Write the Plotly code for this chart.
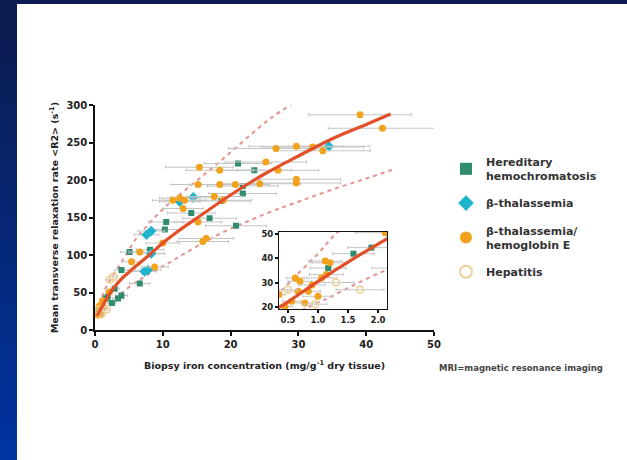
import plotly.graph_objects as go

# ---------------- data ----------------
hh_x = [1.17, 1.59, 1.89, 2.5, 3.4, 3.9, 2.9, 3.9, 5.1, 6.6, 8.1, 10.3, 10.5, 14.2, 16.9, 18.6, 20.8, 21.1, 21.8, 21.8, 23.5]
hh_y = [36, 42, 44.5, 36, 42, 46, 55, 80, 104, 62, 107, 134, 144, 156, 149, 172, 139, 222, 192, 182, 213]
hh_err = [0.3, 0.35, 0.4, 0.6, 0.8, 0.9, 0.7, 1.0, 1.3, 1.5, 2.0, 2.5, 2.6, 3.5, 4.0, 4.2, 4.5, 5.0, 5.2, 5.0, 5.5]

bt_x = [7.6, 8.3, 8.3, 7.8, 7.3, 12.5, 14.5, 34.5]
bt_y = [127, 132, 102, 80, 78, 171, 177, 245]
bt_err = [1.8, 2.0, 2.0, 1.9, 1.8, 3.0, 3.4, 6.0]

be_x = [0.35, 0.45, 0.56, 0.62, 0.67, 0.7, 0.78, 0.84, 0.9, 1.0, 1.06, 1.12, 1.14, 1.2, 2.12,
        5.4, 6.6, 8.8, 10, 11.5, 12.5, 13.2, 13, 15.2, 15.2, 15.9, 16.4, 15.4, 17.6, 18.4, 18.4,
        18.9, 20.7, 24.3, 25.2, 27, 29.7, 29.7, 26.7, 29.7, 32.1, 33.6, 39.1, 42.4]
be_y = [25, 20, 22.2, 31.9, 26.4, 30.5, 21.5, 26.4, 29, 24.3, 31.9, 38.9, 33.3, 38.2, 50.7,
        91, 104, 84, 116, 173, 176, 173, 162, 144, 194, 118, 122, 217, 178, 213, 194,
        173, 194, 195, 224, 213, 201, 196, 242, 245, 244, 239, 287, 269]
be_err = [0.1, 0.12, 0.15, 0.15, 0.18, 0.2, 0.2, 0.2, 0.22, 0.25, 0.25, 0.28, 0.28, 0.3, 0.5,
          1.4, 1.6, 2.0, 2.5, 3.0, 3.0, 3.2, 3.0, 3.5, 4.0, 3.8, 4.0, 5.0, 4.0, 5.0, 4.5,
          4.2, 5.0, 6.0, 6.0, 6.0, 6.5, 6.5, 7.0, 7.0, 7.5, 7.0, 7.6, 8.0]

hep_x = [0.5, 0.95, 1.3, 1.7, 2.2, 2.7]
hep_y = [27, 21, 30, 27, 67, 71]
hep_err = [0.15, 0.2, 0.3, 0.4, 0.6, 0.6]

fit_x = [0.3, 0.5, 1.0, 1.5, 2.0, 2.5, 3, 4, 5, 6, 8, 10, 12, 15, 20, 25, 30, 35, 40, 43.6]
fit_y = [19, 22, 30.5, 38.5, 46, 53, 59, 69, 77, 85, 100, 116, 130, 149, 180, 208, 232, 255, 274, 288]

up_x = [0.3, 0.6, 1.0, 1.33, 2, 3, 4, 6, 8, 10, 13.5, 17, 20, 23.3, 26, 29]
up_y = [24, 32, 42, 51, 63, 78, 92, 121, 142, 161, 188, 214, 237, 263, 283, 301]

lo_x = [0.6, 1.12, 2.12, 3.2, 5, 6.6, 8, 11, 13, 15.9, 19, 22.3, 26, 30, 34.6, 40, 44.4]
lo_y = [17, 23, 35, 44, 57, 67, 75, 90, 101, 116, 131, 144, 158, 171, 186, 202, 215]

groups = [
    ("Hereditary<br>hemochromatosis", hh_x, hh_y, hh_err, dict(symbol="square", color="#2f8c6c", size=6), dict(symbol="square", color="#2f8c6c", size=8)),
    ("β-thalassemia", bt_x, bt_y, bt_err, dict(symbol="diamond", color="#1fb4cc", size=8), dict(symbol="diamond", color="#1fb4cc", size=8)),
    ("β-thalassemia/<br>hemoglobin E", be_x, be_y, be_err, dict(symbol="circle", color="#f2a21c", size=7), dict(symbol="circle", color="#f2a21c", size=10)),
    ("Hepatitis", hep_x, hep_y, hep_err, dict(symbol="circle-open", color="#f0cf96", size=7, line=dict(width=1.5)), dict(symbol="circle-open", color="#f0cf96", size=10, line=dict(width=2))),
]

FONT = "DejaVu Sans"
TXT = "#222222"
W, H = 627, 460
L, R, T, B = 95, 193, 105, 130
PW, PH = W - L - R, H - T - B

def px(xp):
    return (xp - L) / PW

def py(yp):
    return (H - B - yp) / PH

fig = go.Figure()

FIT_COLOR = "#e2502a"
BAND_COLOR = "#e79090"

for xa, ya in (("x", "y"), ("x2", "y2")):
    fig.add_trace(go.Scatter(x=up_x, y=up_y, mode="lines", line=dict(color=BAND_COLOR, width=2, dash="4px,4px", shape="spline"),
                             xaxis=xa, yaxis=ya, showlegend=False, hoverinfo="skip"))
    fig.add_trace(go.Scatter(x=lo_x, y=lo_y, mode="lines", line=dict(color=BAND_COLOR, width=2, dash="4px,4px", shape="spline"),
                             xaxis=xa, yaxis=ya, showlegend=False, hoverinfo="skip"))
    for name, gx, gy, ge, mk, _ in groups:
        fig.add_trace(go.Scatter(x=gx, y=gy, mode="markers", marker=mk,
                                 error_x=dict(type="data", array=ge, color="#c4c4c4", thickness=1, width=1.5),
                                 xaxis=xa, yaxis=ya, showlegend=False, cliponaxis=(xa == "x2")))
    fig.add_trace(go.Scatter(x=fit_x, y=fit_y, mode="lines", line=dict(color=FIT_COLOR, width=3.2, shape="spline"),
                             xaxis=xa, yaxis=ya, showlegend=False, hoverinfo="skip"))

# legend entries
for i, (name, gx, gy, ge, mk, lmk) in enumerate(groups):
    fig.add_trace(go.Scatter(x=[None], y=[None], mode="markers", marker=lmk, name=name,
                             legendgroup="g%d" % i, showlegend=True))

# background: white page, dark-blue frame strips on top and left
shapes = []
N = 23
for i in range(N):
    t = i / (N - 1)
    c = (int(12 + (0 - 12) * t), int(28 + (52 - 28) * t), int(78 + (160 - 78) * t))
    shapes.append(dict(type="rect", xref="paper", yref="paper", x0=px(0), x1=px(17),
                       y0=py(i * 20 + 20.5), y1=py(i * 20), fillcolor="rgb(%d,%d,%d)" % c,
                       line=dict(width=0), layer="below"))
shapes.append(dict(type="rect", xref="paper", yref="paper", x0=px(0), x1=px(W), y0=py(4), y1=py(0),
                   fillcolor="#0c1c50", line=dict(width=0), layer="below"))

axis_common = dict(showgrid=False, zeroline=False, showline=True, linecolor="#111111", linewidth=1.5,
                   ticks="outside", tickcolor="#111111", tickwidth=1.5, ticklen=4,
                   tickfont=dict(family=FONT, size=10, color=TXT, weight="bold"))

fig.update_layout(
    width=W, height=H, margin=dict(l=L, r=R, t=T, b=B),
    paper_bgcolor="white", plot_bgcolor="white",
    shapes=shapes,
    xaxis=dict(axis_common, range=[0, 50], tickvals=[0, 10, 20, 30, 40, 50], domain=[0, 1],
               title=dict(text="Biopsy iron concentration (mg/g<sup>-1</sup> dry tissue)", standoff=14,
                          font=dict(family=FONT, size=9.5, color=TXT, weight="bold"))),
    yaxis=dict(axis_common, range=[0, 300], tickvals=[0, 50, 100, 150, 200, 250, 300], domain=[0, 1],
               title=dict(text="Mean transverse relaxation rate &lt;R2&gt; (s<sup>-1</sup>)", standoff=6,
                          font=dict(family=FONT, size=9.5, color=TXT, weight="bold"))),
    xaxis2=dict(axis_common, range=[0.35, 2.15], tickvals=[0.5, 1.0, 1.5, 2.0], tickformat=".1f",
                domain=[px(279), px(387)], anchor="y2", mirror=True, linewidth=1, ticklen=3,
                tickfont=dict(family=FONT, size=8.5, color=TXT, weight="bold")),
    yaxis2=dict(axis_common, range=[19, 51], tickvals=[20, 30, 40, 50],
                domain=[py(309), py(232)], anchor="x2", mirror=True, linewidth=1, ticklen=3,
                tickfont=dict(family=FONT, size=8.5, color=TXT, weight="bold")),
    legend=dict(x=px(446), y=py(148), xanchor="left", yanchor="top", bgcolor="rgba(0,0,0,0)",
                font=dict(family=FONT, size=11, color="#333333", weight="bold"),
                itemsizing="constant", tracegroupgap=9, valign="middle"),
    annotations=[dict(text="MRI=magnetic resonance imaging", xref="paper", yref="paper",
                      x=px(437), y=py(368), xanchor="left", yanchor="middle", showarrow=False,
                      font=dict(family=FONT, size=8.5, color="#444444", weight="bold"))],
)

fig.write_html("out.html")
